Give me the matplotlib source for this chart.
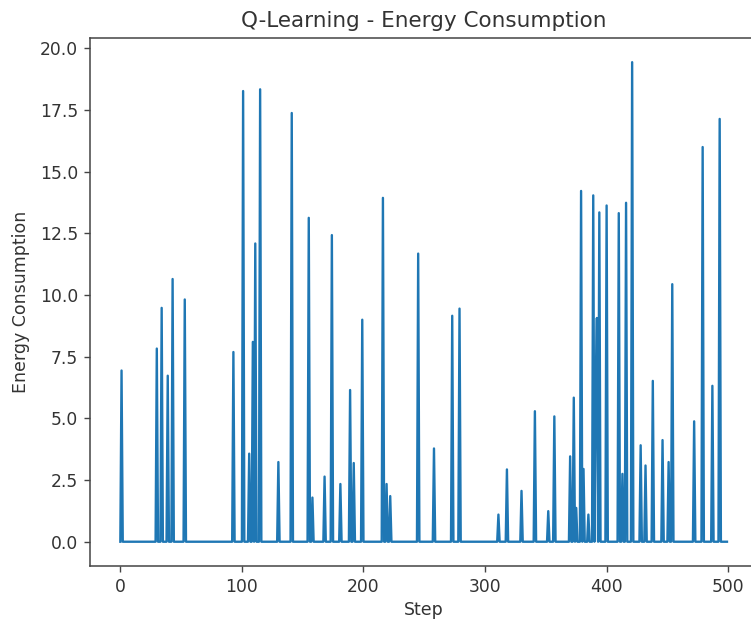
import numpy as np
import matplotlib
matplotlib.use('Agg')
import matplotlib.pyplot as plt

# energy used per step; only the steps where energy was spent are listed, all others are 0
n_steps = 500
spike_steps = [1, 30, 34, 39, 43, 53, 93, 101, 106, 109, 111, 115, 130, 141,
               155, 158, 168, 174, 181, 189, 192, 199, 216, 219, 222, 245, 258,
               273, 279, 311, 318, 330, 341, 352, 357, 370, 373, 375, 379, 381,
               385, 389, 391, 392, 394, 400, 410, 413, 416, 421, 428, 432, 438,
               446, 451, 454, 472, 479, 487, 493]
spike_energy = [6.94, 7.83, 9.48, 6.73, 10.65, 9.82, 7.69, 18.27, 3.57, 8.10,
                12.09, 18.34, 3.23, 17.38, 13.13, 1.79, 2.64, 12.43, 2.34, 6.15,
                3.19, 9.00, 13.94, 2.34, 1.85, 11.68, 3.78, 9.16, 9.45, 1.10,
                2.93, 2.06, 5.29, 1.24, 5.08, 3.46, 5.84, 1.37, 14.22, 2.95,
                1.10, 14.04, 5.98, 9.07, 13.35, 13.63, 13.32, 2.75, 13.74, 19.44,
                3.91, 3.09, 6.52, 4.12, 3.23, 10.44, 4.88, 16.00, 6.32, 17.14]

steps = np.arange(n_steps)
energy = np.zeros(n_steps)
energy[spike_steps] = spike_energy

text_color = '#333333'
plt.rcParams['font.family'] = ['DejaVu Sans']

fig = plt.figure(figsize=(7.51, 6.22), dpi=100)
ax = fig.add_axes([90.0 / 751, (622 - 565.7) / 622, (757.3 - 90.0) / 751, (565.7 - 38.2) / 622])
ax.plot(steps, energy, color='#1f77b4', linewidth=1.7)

ax.set_title('Q-Learning - Energy Consumption', fontsize=15.5, color=text_color, pad=8)
ax.set_xlabel('Step', fontsize=12.5, color=text_color, labelpad=4)
ax.set_ylabel('Energy Consumption', fontsize=12.5, color=text_color, labelpad=7)
ax.tick_params(labelsize=12.3, labelcolor=text_color, color='#444444', length=4.2, width=1.0, pad=4.5)
for spine in ax.spines.values():
    spine.set_linewidth(1.1)
    spine.set_color('#444444')

fig.savefig('out.png', dpi=100)
